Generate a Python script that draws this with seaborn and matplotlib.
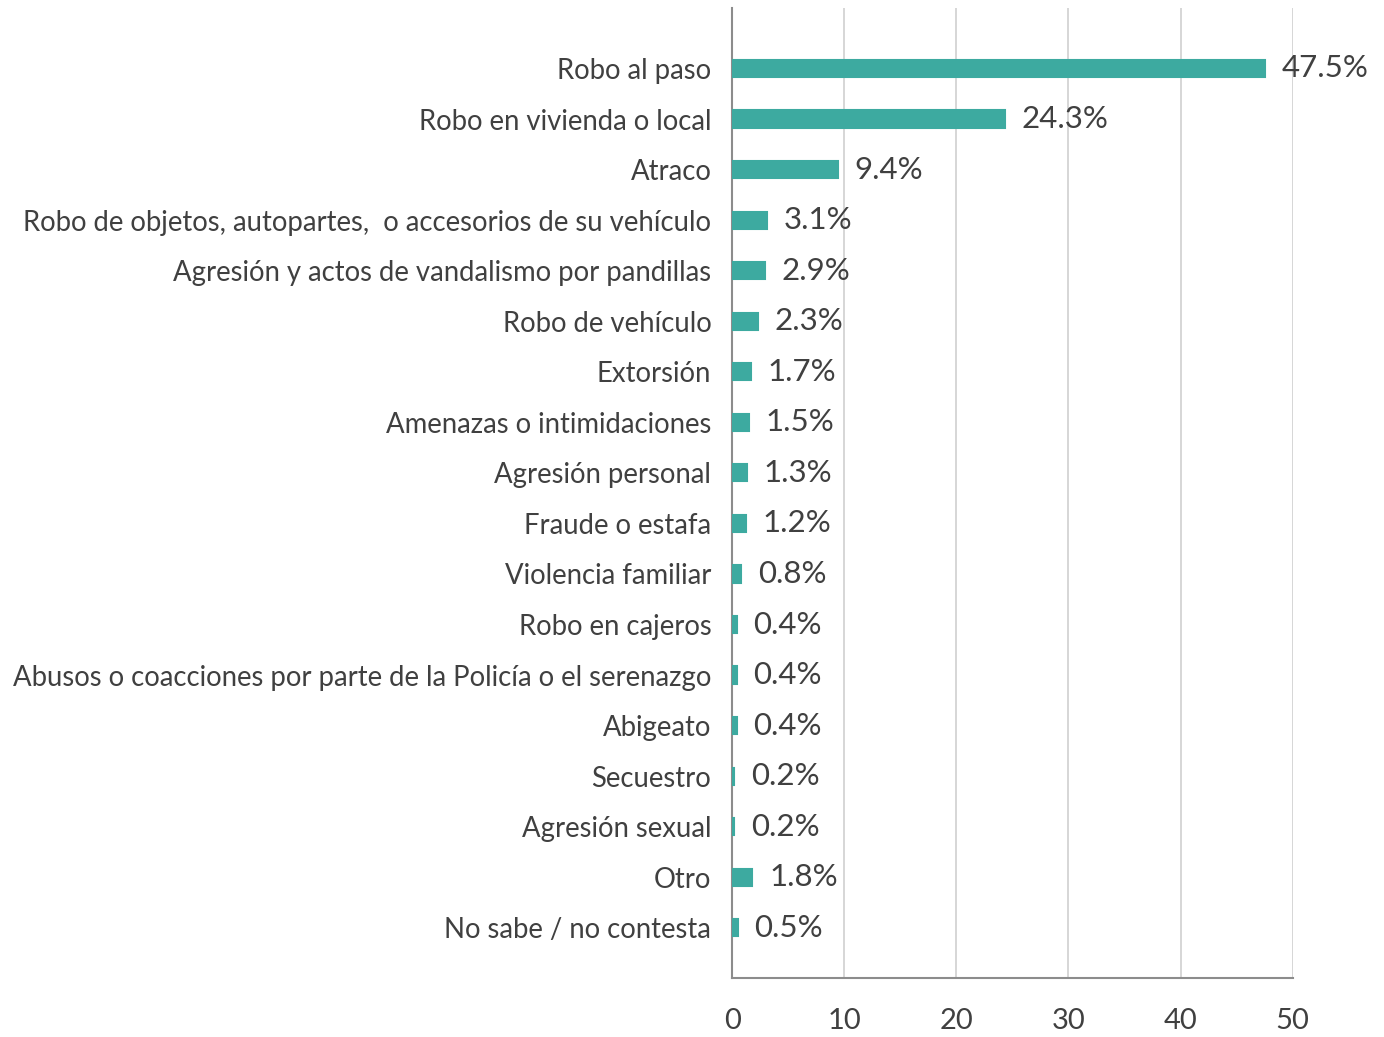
import pandas as pd
import matplotlib
matplotlib.use('Agg')
import matplotlib.pyplot as plt
import seaborn as sns

# Datos
categorias = [
    'Robo al paso',
    'Robo en vivienda o local',
    'Atraco',
    'Robo de objetos, autopartes,  o accesorios de su vehículo',
    'Agresión y actos de vandalismo por pandillas',
    'Robo de vehículo',
    'Extorsión',
    'Amenazas o intimidaciones',
    'Agresión personal',
    'Fraude o estafa',
    'Violencia familiar',
    'Robo en cajeros',
    'Abusos o coacciones por parte de la Policía o el serenazgo',
    'Abigeato',
    'Secuestro',
    'Agresión sexual',
    'Otro',
    'No sabe / no contesta',
]
porcentajes = [47.5, 24.3, 9.4, 3.1, 2.9, 2.3, 1.7, 1.5, 1.3, 1.2,
               0.8, 0.4, 0.4, 0.4, 0.2, 0.2, 1.8, 0.5]

dados = pd.DataFrame({'Categoria': categorias, 'Porcentaje': porcentajes})

sns.set_style('white')
plt.rcParams['font.family'] = ['Lato', 'DejaVu Sans']
gris_texto = '#404040'
verde = '#3DAAA0'

fig = plt.figure(figsize=(13.84, 10.37), dpi=100)
ax = fig.add_axes([0.529, 0.057, 0.405, 0.935])

sns.barplot(data=dados, x='Porcentaje', y='Categoria', color=verde,
            width=0.34, saturation=1, ax=ax, zorder=3,
            edgecolor=verde, linewidth=1.5)

# Etiquetas de datos
ax.bar_label(ax.containers[0], labels=[f'{v:.1f}%' for v in porcentajes],
             padding=12, fontsize=22.5, color=gris_texto)

ax.set_xlim(0, 50)
ax.set_xticks([0, 10, 20, 30, 40, 50])
ax.set_ylim(17.99, -1.19)
ax.set_xlabel('')
ax.set_ylabel('')
ax.grid(axis='x', color='#D0D0D0', linewidth=1.2, zorder=0)
ax.grid(axis='y', visible=False)

for lado in ['top', 'right']:
    ax.spines[lado].set_visible(False)
for lado in ['left', 'bottom']:
    ax.spines[lado].set_color('#8C8C8C')
    ax.spines[lado].set_linewidth(1.5)

ax.tick_params(axis='y', length=0, pad=15, labelsize=19.8, labelcolor=gris_texto)
ax.tick_params(axis='x', length=0, pad=22, labelsize=21, labelcolor=gris_texto)

plt.savefig('out.png', dpi=100)
